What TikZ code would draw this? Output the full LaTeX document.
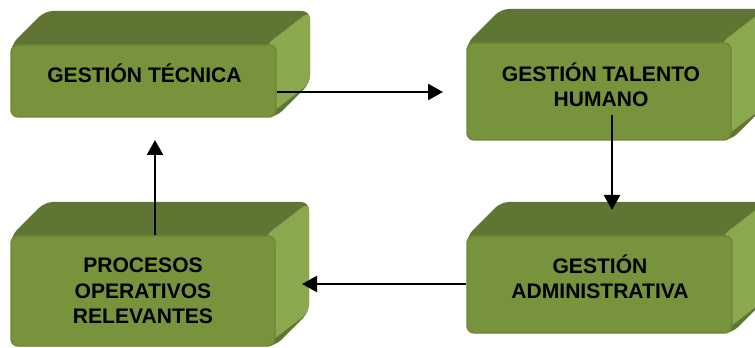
\documentclass[tikz,border=0pt]{standalone}
\usepackage{fontspec}
\setmainfont{Liberation Sans}
\usetikzlibrary{arrows.meta,calc}

\definecolor{faceFront}{HTML}{77933C}
\definecolor{faceTop}{HTML}{5F7533}
\definecolor{faceSide}{HTML}{8AA84D}
\definecolor{faceEdge}{HTML}{6B8536}

\tikzset{
  front/.style={rectangle, rounded corners=7*0.75pt, fill=faceFront,
    draw=faceEdge, line width=1pt, inner sep=0pt},
  label/.style={font=\bfseries\fontsize{15.8pt}{19.1pt}\selectfont,
    align=center, text=black, inner sep=0pt},
  flow/.style={line width=1.8pt, draw=black,
    -{Triangle[length=15*0.75pt,width=16*0.75pt]}},
}

% solid block: front face x1..x2, y1..y2 (pixel units, y down), depth d
\newcommand{\blockbody}[5]{%
  \fill[faceTop, rounded corners=8*0.75pt]
    (#1,#4) -- (#1,#3) -- ({#1+#5},{#3-#5}) -- ({#2+#5},{#3-#5})
    -- ({#2+#5},{#4-#5}) -- (#2,#4) -- cycle;
  \fill[faceSide, rounded corners=8*0.75pt]
    ({#2-10},#3) -- ({#2+#5},{#3-#5}) -- ({#2+#5},{#4-#5}) -- ({#2-10},#4) -- cycle;
}

\begin{document}
\begin{tikzpicture}[x=0.75pt,y=-0.75pt]
  \useasboundingbox (0,0) rectangle (755,348);
  \clip (0,0) rectangle (755,348);

  % block bodies (top and side faces)
  \blockbody{11}{276}{45}{117}{34}
  \blockbody{467}{731}{43}{140}{34}
  \blockbody{11}{275}{236}{346}{34}
  \blockbody{467}{732}{236}{333}{34}

  % front faces
  \node[front, minimum width=265*0.75pt, minimum height=72*0.75pt] (b1) at (143.5,81) {};
  \node[front, minimum width=264*0.75pt, minimum height=97*0.75pt] (b2) at (599,91.5) {};
  \node[front, minimum width=264*0.75pt, minimum height=110*0.75pt] (b3) at (143,291) {};
  \node[front, minimum width=265*0.75pt, minimum height=97*0.75pt] (b4) at (599.5,284.5) {};

  % texts
  \node[label] (l1) at (144.5,73) {GESTIÓN TÉCNICA};
  \node[label] (l2) at (601,85) {GESTIÓN TALENTO\\HUMANO};
  \node[label] (l3) at (143,291) {PROCESOS\\OPERATIVOS\\RELEVANTES};
  \node[label] (l4) at (600,277) {GESTIÓN\\ADMINISTRATIVA};

  % arrow tips and start points
  \coordinate (t1) at (443,92);
  \coordinate (s2) at (612,115);
  \coordinate (t2) at (612,210);
  \coordinate (t3) at (302,284);
  \coordinate (t4) at (155,140);

  % connectors
  \draw[flow] (b1.east |- t1) -- (t1);
  \draw[flow] (s2) -- (t2);
  \draw[flow] (b4.west |- t3) -- (t3);
  \draw[flow] (b3.north -| t4) -- (t4);
\end{tikzpicture}
\end{document}
